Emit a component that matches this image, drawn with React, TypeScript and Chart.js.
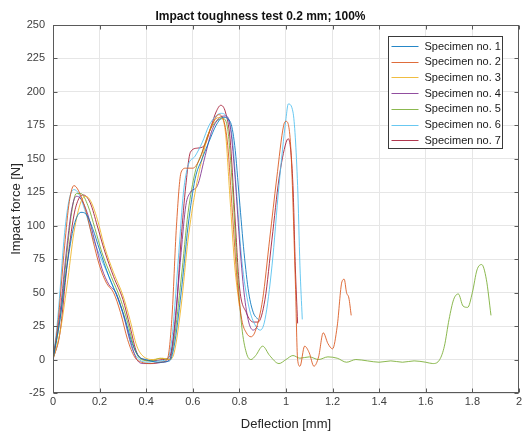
import React, { useEffect, useRef } from 'react';
import { Chart, registerables } from 'chart.js';

Chart.register(...registerables);

const titleText = 'Impact toughness test 0.2 mm; 100%';
const xAxisLabel = 'Deflection [mm]';
const yAxisLabel = 'Impact force [N]';
const seriesLabels = [
  'Specimen no. 1',
  'Specimen no. 2',
  'Specimen no. 3',
  'Specimen no. 4',
  'Specimen no. 5',
  'Specimen no. 6',
  'Specimen no. 7',
];
const seriesColors = [
  'rgba(0,114,189,0.85)',
  'rgba(217,83,25,0.85)',
  'rgba(237,177,32,0.85)',
  'rgba(126,47,142,0.85)',
  'rgba(119,172,48,0.85)',
  'rgba(77,190,238,0.85)',
  'rgba(162,20,47,0.85)',
];
const xTickValues = [0, 0.2, 0.4, 0.6, 0.8, 1, 1.2, 1.4, 1.6, 1.8, 2];
const yTickValues = [-25, 0, 25, 50, 75, 100, 125, 150, 175, 200, 225, 250];

const specimen1X = [0, 0.03, 0.06, 0.09, 0.12, 0.14, 0.17, 0.2, 0.24, 0.28, 0.31, 0.34, 0.37, 0.4, 0.45, 0.5, 0.52, 0.55, 0.58, 0.61, 0.64, 0.67, 0.7, 0.73, 0.76, 0.78, 0.8, 0.82, 0.84, 0.86, 0.88];
const specimen1Y = [0, 30, 70, 100, 110, 109, 98, 82, 62, 45, 30, 12, 2, 0, -2, -1, 10, 50, 100, 135, 150, 163, 175, 181, 178, 160, 120, 80, 50, 35, 30];

const specimen2X = [0, 0.02, 0.05, 0.07, 0.09, 0.11, 0.14, 0.17, 0.2, 0.23, 0.26, 0.29, 0.32, 0.35, 0.38, 0.42, 0.46, 0.49, 0.51, 0.53, 0.55, 0.57, 0.6, 0.63, 0.66, 0.69, 0.71, 0.73, 0.75, 0.77, 0.79, 0.81, 0.83, 0.85, 0.87, 0.9, 0.93, 0.96, 0.99, 1.0, 1.02, 1.04, 1.05, 1.06, 1.08, 1.1, 1.12, 1.14, 1.16, 1.18, 1.2, 1.22, 1.24, 1.25, 1.26, 1.27, 1.28];
const specimen2Y = [0, 25, 85, 118, 130, 126, 112, 90, 70, 57, 50, 35, 15, 2, -2, -3, -2, 0, 30, 100, 140, 143, 143, 150, 165, 178, 183, 180, 160, 110, 60, 30, 20, 17, 22, 45, 90, 135, 175, 178, 160, 60, 0, -5, 10, 5, -5, 2, 20, 12, 8, 25, 58, 60, 50, 46, 33];

const specimen3X = [0, 0.03, 0.06, 0.09, 0.12, 0.14, 0.16, 0.19, 0.22, 0.26, 0.3, 0.33, 0.36, 0.39, 0.43, 0.47, 0.5, 0.52, 0.55, 0.58, 0.61, 0.64, 0.67, 0.7, 0.72, 0.74, 0.76, 0.78, 0.8];
const specimen3Y = [0, 20, 55, 95, 118, 122, 119, 105, 85, 65, 48, 30, 10, 2, 0, 1, 0, 5, 40, 90, 125, 150, 170, 180, 181, 170, 120, 70, 40];

const specimen4X = [0, 0.03, 0.06, 0.08, 0.1, 0.12, 0.15, 0.18, 0.21, 0.24, 0.27, 0.3, 0.33, 0.36, 0.39, 0.43, 0.47, 0.5, 0.52, 0.55, 0.57, 0.59, 0.62, 0.65, 0.68, 0.71, 0.74, 0.76, 0.78, 0.8, 0.82, 0.84, 0.86, 0.88];
const specimen4Y = [0, 35, 85, 112, 122, 120, 108, 88, 68, 56, 50, 35, 15, 0, -3, -3, -2, 0, 20, 80, 115, 125, 130, 150, 170, 180, 182, 175, 140, 90, 50, 28, 22, 25];

const specimen5X = [0, 0.03, 0.06, 0.08, 0.1, 0.12, 0.15, 0.18, 0.21, 0.25, 0.29, 0.32, 0.35, 0.38, 0.42, 0.46, 0.5, 0.52, 0.55, 0.58, 0.61, 0.64, 0.67, 0.7, 0.73, 0.75, 0.77, 0.79, 0.81, 0.83, 0.85, 0.87, 0.9, 0.93, 0.97, 1.0, 1.03, 1.06, 1.1, 1.14, 1.18, 1.22, 1.26, 1.3, 1.35, 1.4, 1.45, 1.5, 1.55, 1.6, 1.63, 1.66, 1.68, 1.7, 1.72, 1.74, 1.76, 1.78, 1.8, 1.82, 1.84, 1.86, 1.88];
const specimen5Y = [0, 30, 80, 110, 124, 124, 115, 98, 80, 62, 45, 28, 8, 0, -1, 1, 0, 15, 60, 110, 140, 155, 170, 178, 180, 172, 130, 70, 25, 5, 0, 3, 10, 3, -3, 0, 3, 1, 2, 0, 2, 1, -2, 0, -1, -2, -1, -2, -1, -2, -3, 0, 10, 30, 45, 49, 40, 39, 50, 67, 71, 60, 33];

const specimen6X = [0, 0.02, 0.05, 0.07, 0.09, 0.11, 0.14, 0.17, 0.2, 0.24, 0.28, 0.31, 0.34, 0.37, 0.41, 0.45, 0.49, 0.51, 0.54, 0.56, 0.58, 0.61, 0.64, 0.67, 0.7, 0.72, 0.75, 0.77, 0.79, 0.81, 0.84, 0.87, 0.89, 0.91, 0.94, 0.97, 1.0, 1.01, 1.03, 1.05, 1.06, 1.07];
const specimen6Y = [0, 30, 95, 120, 127, 124, 110, 92, 78, 62, 45, 28, 8, 0, -2, -1, 0, 15, 80, 125, 145, 152, 162, 175, 182, 184, 180, 165, 120, 75, 40, 25, 22, 30, 70, 130, 180, 191, 185, 130, 70, 30];

const specimen7X = [0, 0.03, 0.06, 0.09, 0.11, 0.13, 0.16, 0.19, 0.22, 0.26, 0.3, 0.33, 0.36, 0.39, 0.43, 0.47, 0.5, 0.53, 0.55, 0.57, 0.59, 0.62, 0.65, 0.68, 0.7, 0.72, 0.74, 0.76, 0.78, 0.8, 0.83, 0.86, 0.88, 0.91, 0.94, 0.97, 1.0, 1.01, 1.03, 1.04, 1.05];
const specimen7Y = [0, 20, 70, 108, 120, 123, 117, 100, 82, 62, 45, 25, 5, 0, -1, 0, 2, 40, 90, 130, 155, 158, 160, 175, 185, 190, 185, 165, 110, 55, 35, 28, 28, 45, 90, 135, 162, 165, 130, 70, 27];

const seriesX = [specimen1X, specimen2X, specimen3X, specimen4X, specimen5X, specimen6X, specimen7X];
const seriesY = [specimen1Y, specimen2Y, specimen3Y, specimen4Y, specimen5Y, specimen6Y, specimen7Y];

const FONT = "'Liberation Sans', Arial, Helvetica, sans-serif";
const AXIS_COLOR = '#5a5a5a';
const TEXT_COLOR = '#404040';

const framePlugin = {
  id: 'matlabFrame',
  afterDatasetsDraw(chart: any) {
    const { ctx, chartArea: a, scales } = chart;
    ctx.save();
    ctx.strokeStyle = AXIS_COLOR;
    ctx.lineWidth = 1;
    const L = Math.round(a.left) + 0.5;
    const R = Math.round(a.right) - 0.5;
    const T = Math.round(a.top) + 0.5;
    const B = Math.round(a.bottom) - 0.5;
    ctx.strokeRect(L, T, R - L, B - T);
    const tl = 4;
    ctx.beginPath();
    xTickValues.forEach((v) => {
      const px = Math.round(scales.x.getPixelForValue(v)) + 0.5;
      ctx.moveTo(px, B);
      ctx.lineTo(px, B - tl);
      ctx.moveTo(px, T);
      ctx.lineTo(px, T + tl);
    });
    yTickValues.forEach((v) => {
      const py = Math.round(scales.y.getPixelForValue(v)) + 0.5;
      ctx.moveTo(L, py);
      ctx.lineTo(L + tl, py);
      ctx.moveTo(R, py);
      ctx.lineTo(R - tl, py);
    });
    ctx.stroke();

    // legend box (inside axes, north-east)
    const boxRight = Math.round(a.right) - 16.5;
    const boxLeft = boxRight - 114;
    const boxTop = Math.round(a.top) + 11.5;
    const rowH = 15.7;
    const boxH = 112;
    ctx.fillStyle = '#ffffff';
    ctx.fillRect(boxLeft, boxTop, boxRight - boxLeft, boxH);
    ctx.strokeStyle = '#3a3a3a';
    ctx.strokeRect(boxLeft, boxTop, boxRight - boxLeft, boxH);
    ctx.font = `11px ${FONT}`;
    ctx.textBaseline = 'middle';
    ctx.textAlign = 'left';
    chart.data.datasets.forEach((ds: any, i: number) => {
      const cy = boxTop + 9.5 + i * rowH;
      ctx.strokeStyle = ds.borderColor;
      ctx.lineWidth = 1;
      ctx.beginPath();
      ctx.moveTo(boxLeft + 3, Math.round(cy) + 0.5);
      ctx.lineTo(boxLeft + 30, Math.round(cy) + 0.5);
      ctx.stroke();
      ctx.fillStyle = '#1a1a1a';
      ctx.fillText(ds.label, boxLeft + 36, cy + 0.5);
    });
    ctx.restore();
  },
};

export default function App() {
  const canvasRef = useRef<HTMLCanvasElement | null>(null);

  useEffect(() => {
    if (!canvasRef.current) return;
    const datasets = seriesLabels.map((label, i) => ({
      label,
      data: seriesX[i].map((x, j) => ({ x, y: seriesY[i][j] })),
      borderColor: seriesColors[i],
      backgroundColor: seriesColors[i],
      borderWidth: 1,
      pointRadius: 0,
      fill: false,
      cubicInterpolationMode: 'monotone' as const,
    }));

    const chart = new Chart(canvasRef.current, {
      type: 'line',
      data: { datasets },
      plugins: [framePlugin],
      options: {
        animation: false,
        responsive: false,
        maintainAspectRatio: false,
        layout: { padding: { left: 0, right: 3, top: 0, bottom: 0 } },
        plugins: {
          legend: { display: false },
          tooltip: { enabled: false },
          title: {
            display: true,
            text: titleText,
            color: '#111111',
            font: { family: FONT, size: 12, weight: 'bold', lineHeight: 1.2 },
            padding: { top: 9, bottom: 1.6 },
          },
        },
        scales: {
          x: {
            type: 'linear',
            min: 0,
            max: 2,
            afterFit: (s: any) => {
              s.height = 42;
            },
            afterBuildTicks: (s: any) => {
              s.ticks = xTickValues.map((v) => ({ value: v }));
            },
            ticks: {
              color: TEXT_COLOR,
              font: { family: FONT, size: 11 },
              padding: 2,
              maxRotation: 0,
              autoSkip: false,
              callback: (v: any) => String(Number(Number(v).toFixed(1))),
            },
            grid: { color: '#e6e6e6', drawTicks: false },
            border: { display: false },
            title: {
              display: true,
              text: xAxisLabel,
              color: '#262626',
              font: { family: FONT, size: 13 },
              padding: { top: 0, bottom: 3 },
            },
          },
          y: {
            type: 'linear',
            min: -25,
            max: 250,
            afterFit: (s: any) => {
              s.width = 53;
            },
            afterBuildTicks: (s: any) => {
              s.ticks = yTickValues.map((v) => ({ value: v }));
            },
            ticks: {
              color: TEXT_COLOR,
              font: { family: FONT, size: 11 },
              padding: 8,
              autoSkip: false,
            },
            grid: { color: '#e6e6e6', drawTicks: false },
            border: { display: false },
            title: {
              display: true,
              text: yAxisLabel,
              color: '#262626',
              font: { family: FONT, size: 13 },
              padding: { top: 9, bottom: 0 },
            },
          },
        },
      },
    });
    return () => chart.destroy();
  }, []);

  return (
    <div style={{ position: 'fixed', left: 0, top: 0, width: 524, height: 435, background: '#ffffff' }}>
      <canvas ref={canvasRef} width={524} height={435} style={{ width: 524, height: 435, display: 'block' }} />
    </div>
  );
}
